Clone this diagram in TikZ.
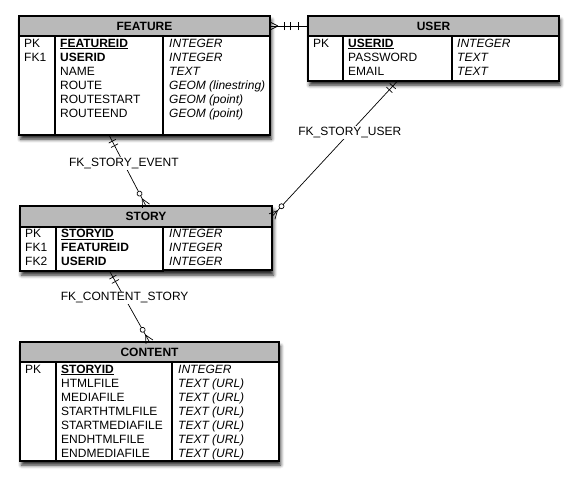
\documentclass[tikz,border=0pt]{standalone}
\usepackage{fontspec}
\setmainfont{Liberation Sans}
\usetikzlibrary{decorations.markings,shadows.blur,fit,backgrounds}
\newcommand{\erlines}[1]{\begin{tabular}[t]{@{}l@{}}#1\end{tabular}}
\tikzset{
    er-title/.style = {draw, line width=1.2pt, fill=gray!55, inner sep=0pt, outer sep=0pt, anchor=north west, minimum height=20pt, font=\fontsize{12}{14}\selectfont\bfseries},
    er-col/.style = {draw, line width=1.2pt, fill=white, inner sep=0pt, outer sep=0pt, anchor=north west},
    er-text/.style = {anchor=base west, inner sep=0pt, font=\fontsize{12}{14}\selectfont},
    er-shadow/.style = {fill=white, inner sep=0pt, blur shadow={shadow xshift=1.5pt, shadow yshift=-4pt, shadow blur radius=3.5pt, shadow opacity=85}},
    er-link/.style = {line width=0.7pt},
    er-label/.style = {fill=white, inner sep=1pt, font=\fontsize{12}{14}\selectfont},
    one-bar/.style = {postaction={decorate, decoration={markings, mark=at position #1 with {\draw (0,-4pt) -- (0,4pt);}}}},
    crow-start/.style = {postaction={decorate, decoration={markings, mark=at position 8pt with {\draw (0,0) -- (-8pt,4pt) (0,0) -- (-8pt,-4pt);}}}},
    crow-end/.style = {postaction={decorate, decoration={markings, mark=at position -8pt with {\draw (0,0) -- (8pt,4pt) (0,0) -- (8pt,-4pt);}}}},
    ring-end/.style = {postaction={decorate, decoration={markings, mark=at position -14pt with {\draw[fill=white] (0,0) circle (2.5pt);}}}},
    one-only-start/.style = {one-bar=7pt, one-bar=12pt},
    one-only-end/.style = {one-bar=-10pt, one-bar=-18pt},
    one-many-start/.style = {crow-start, one-bar=14pt},
    zero-many-end/.style = {crow-end, ring-end},
}
\begin{document}
\begin{tikzpicture}[x=1pt, y=-1pt]
\useasboundingbox (0,0) rectangle (578,482);

\node[er-title, minimum width=251pt] (feature-title) at (19,16) {FEATURE};
\node[er-col, minimum width=36pt, minimum height=99pt] (feature-keys) at (feature-title.south west) {};
\node[er-col, minimum width=108pt, minimum height=99pt] (feature-fields) at (feature-keys.north east) {};
\node[er-col, minimum width=107pt, minimum height=99pt] (feature-types) at (feature-fields.north east) {};
\node[er-text] (feature-keys-text) at ([shift={(5pt,-11pt)}]feature-keys.north west) {\erlines{PK\\FK1}};
\node[er-text] (feature-fields-text) at ([shift={(5pt,-11pt)}]feature-fields.north west) {\erlines{\underline{\textbf{FEATUREID}}\\\textbf{USERID}\\NAME\\ROUTE\\ROUTESTART\\ROUTEEND}};
\node[er-text] (feature-types-text) at ([shift={(6pt,-11pt)}]feature-types.north west) {\erlines{\itshape INTEGER\\\itshape INTEGER\\\itshape TEXT\\\itshape GEOM (linestring)\\\itshape GEOM (point)\\\itshape GEOM (point)}};

\node[er-title, minimum width=251pt] (user-title) at (308,16) {USER};
\node[er-col, minimum width=35pt, minimum height=45pt] (user-keys) at (user-title.south west) {};
\node[er-col, minimum width=109pt, minimum height=45pt] (user-fields) at (user-keys.north east) {};
\node[er-col, minimum width=107pt, minimum height=45pt] (user-types) at (user-fields.north east) {};
\node[er-text] (user-keys-text) at ([shift={(5pt,-11pt)}]user-keys.north west) {\erlines{PK}};
\node[er-text] (user-fields-text) at ([shift={(5pt,-11pt)}]user-fields.north west) {\erlines{\underline{\textbf{USERID}}\\PASSWORD\\EMAIL}};
\node[er-text] (user-types-text) at ([shift={(5pt,-11pt)}]user-types.north west) {\erlines{\itshape INTEGER\\\itshape TEXT\\\itshape TEXT}};

\node[er-title, minimum width=252pt, minimum height=21pt] (story-title) at (20,206) {STORY};
\node[er-col, minimum width=36pt, minimum height=44pt] (story-keys) at (story-title.south west) {};
\node[er-col, minimum width=107pt, minimum height=44pt] (story-fields) at (story-keys.north east) {};
\node[er-col, minimum width=109pt, minimum height=43pt] (story-types) at (story-fields.north east) {};
\node[er-text] (story-keys-text) at ([shift={(5pt,-10.5pt)}]story-keys.north west) {\erlines{PK\\FK1\\FK2}};
\node[er-text] (story-fields-text) at ([shift={(5pt,-10.5pt)}]story-fields.north west) {\erlines{\underline{\textbf{STORYID}}\\\textbf{FEATUREID}\\\textbf{USERID}}};
\node[er-text] (story-types-text) at ([shift={(6pt,-10.5pt)}]story-types.north west) {\erlines{\itshape INTEGER\\\itshape INTEGER\\\itshape INTEGER}};

\node[er-title, minimum width=259pt] (content-title) at (20,342) {CONTENT};
\node[er-col, minimum width=36pt, minimum height=99pt] (content-keys) at (content-title.south west) {};
\node[er-col, minimum width=116pt, minimum height=99pt] (content-fields) at (content-keys.north east) {};
\node[er-col, minimum width=107pt, minimum height=99pt] (content-types) at (content-fields.north east) {};
\node[er-text] (content-keys-text) at ([shift={(5pt,-11pt)}]content-keys.north west) {\erlines{PK}};
\node[er-text] (content-fields-text) at ([shift={(5pt,-11pt)}]content-fields.north west) {\erlines{\underline{\textbf{STORYID}}\\HTMLFILE\\MEDIAFILE\\STARTHTMLFILE\\STARTMEDIAFILE\\ENDHTMLFILE\\ENDMEDIAFILE}};
\node[er-text] (content-types-text) at ([shift={(6pt,-11pt)}]content-types.north west) {\erlines{\itshape INTEGER\\\itshape TEXT (URL)\\\itshape TEXT (URL)\\\itshape TEXT (URL)\\\itshape TEXT (URL)\\\itshape TEXT (URL)\\\itshape TEXT (URL)}};

\begin{scope}[on background layer]
\node[er-shadow, fit=(feature-title)(feature-types)] (feature-shadow) {};
\node[er-shadow, fit=(user-title)(user-types)] (user-shadow) {};
\node[er-shadow, fit=(story-title)(story-fields)(story-types)] (story-shadow) {};
\node[er-shadow, fit=(content-title)(content-types)] (content-shadow) {};
\end{scope}

\draw[er-link, one-many-start, one-only-end] (feature-title.east) -- (user-title.west);
\draw[er-link, one-only-start, zero-many-end] (feature-fields.south) -- node[er-label, pos=0.4] (story-event-label) {FK\_STORY\_EVENT} (story-title.north);
\draw[er-link, one-only-start, zero-many-end] (user-fields.south) -- node[er-label, pos=0.38] (story-user-label) {FK\_STORY\_USER} (story-title.east);
\draw[er-link, one-only-start, zero-many-end] (story-fields.south) -- node[er-label, pos=0.38] (content-story-label) {FK\_CONTENT\_STORY} (content-title.north);
\end{tikzpicture}
\end{document}
